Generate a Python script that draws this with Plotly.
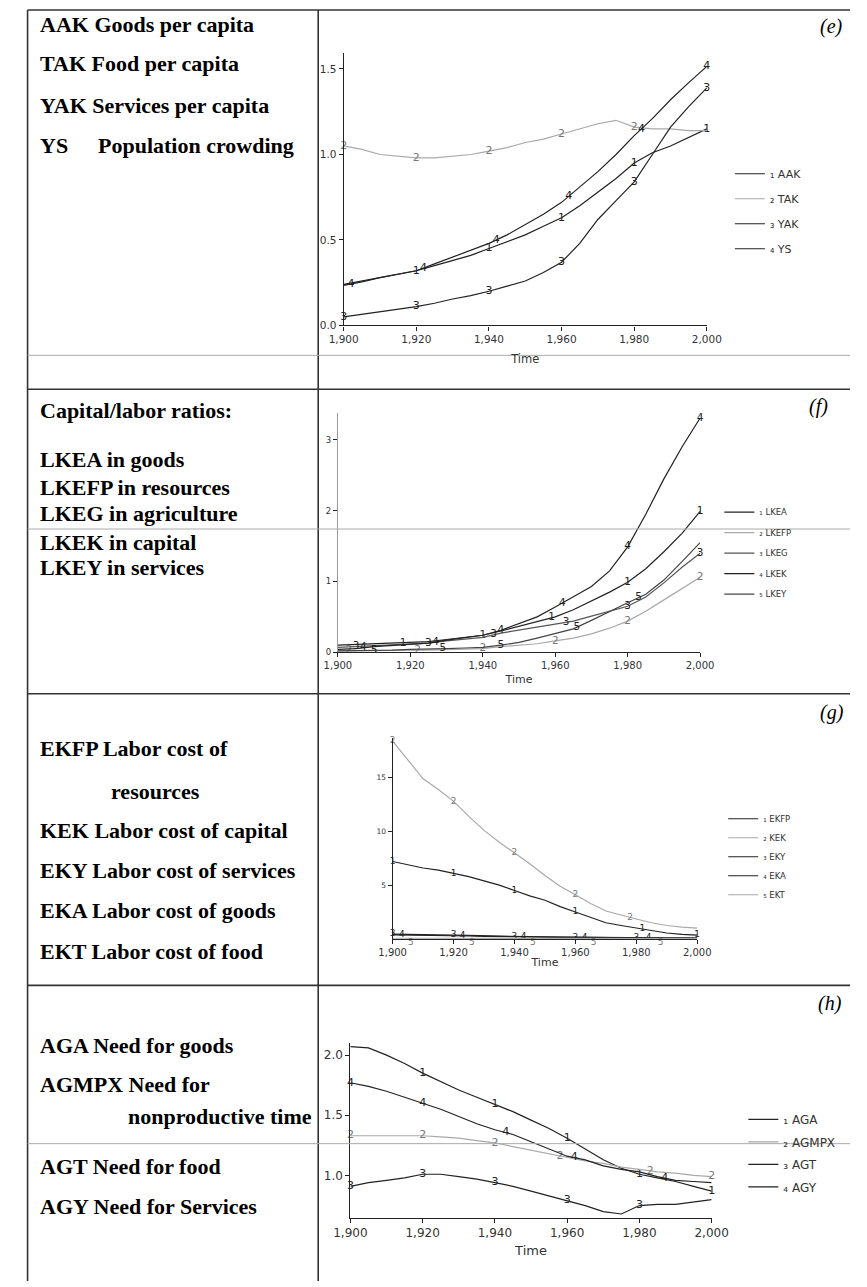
import numpy as np
import plotly.graph_objects as go

W, H = 867, 1287

YEARS = list(range(1900, 2001, 5))
X_TICKS = [1900, 1920, 1940, 1960, 1980, 2000]
SUB_DIGITS = ["\u2081", "\u2082", "\u2083", "\u2084", "\u2085"]

# ---------------- (e) ----------------
E_NAMES = ["AAK", "TAK", "YAK", "YS"]
AAK = [0.24, 0.26, 0.28, 0.30, 0.32, 0.35, 0.38, 0.41, 0.45, 0.49, 0.53,
       0.58, 0.63, 0.70, 0.78, 0.86, 0.95, 1.01, 1.05, 1.10, 1.15]
TAK = [1.05, 1.03, 1.00, 0.99, 0.98, 0.98, 0.99, 1.00, 1.02, 1.04, 1.07,
       1.09, 1.12, 1.15, 1.18, 1.20, 1.16, 1.15, 1.15, 1.14, 1.14]
YAK = [0.05, 0.065, 0.08, 0.095, 0.11, 0.13, 0.155, 0.175, 0.20, 0.23, 0.26,
       0.31, 0.37, 0.48, 0.62, 0.73, 0.84, 1.00, 1.16, 1.28, 1.39]
YS = [0.235, 0.255, 0.28, 0.30, 0.32, 0.36, 0.40, 0.44, 0.48, 0.53, 0.59,
      0.65, 0.72, 0.81, 0.90, 1.00, 1.11, 1.21, 1.32, 1.42, 1.515]
E_LABEL_YEARS = [[1920, 1940, 1960, 1980, 2000],
                 [1900, 1920, 1940, 1960, 1980],
                 [1900, 1920, 1940, 1960, 1980, 2000],
                 [1902, 1922, 1942, 1962, 1982, 2000]]
E_YTICKS = [0.0, 0.5, 1.0, 1.5]

# ---------------- (f) ----------------
F_NAMES = ["LKEA", "LKEFP", "LKEG", "LKEK", "LKEY"]
LKEA = [0.10, 0.11, 0.12, 0.125, 0.13, 0.15, 0.18, 0.21, 0.24, 0.30, 0.37,
        0.43, 0.50, 0.60, 0.72, 0.85, 0.99, 1.18, 1.42, 1.68, 1.99]
LKEFP = [0.02, 0.02, 0.02, 0.025, 0.03, 0.03, 0.035, 0.04, 0.05, 0.08, 0.10,
         0.12, 0.16, 0.20, 0.26, 0.34, 0.44, 0.58, 0.74, 0.90, 1.06]
LKEG = [0.07, 0.08, 0.09, 0.11, 0.12, 0.13, 0.16, 0.18, 0.21, 0.27, 0.31,
        0.35, 0.39, 0.44, 0.51, 0.58, 0.65, 0.78, 0.98, 1.20, 1.40]
LKEK = [0.04, 0.05, 0.08, 0.10, 0.12, 0.13, 0.17, 0.20, 0.24, 0.31, 0.40,
        0.50, 0.64, 0.78, 0.93, 1.15, 1.49, 1.95, 2.45, 2.90, 3.31]
LKEY = [0.02, 0.02, 0.02, 0.03, 0.04, 0.04, 0.05, 0.06, 0.07, 0.10, 0.14,
        0.20, 0.26, 0.33, 0.45, 0.58, 0.70, 0.82, 1.02, 1.28, 1.55]
F_LABEL_YEARS = [[1918, 1940, 1959, 1980, 2000],
                 [1903, 1922, 1940, 1960, 1980, 2000],
                 [1905, 1925, 1943, 1963, 1980, 2000],
                 [1907, 1927, 1945, 1962, 1980, 2000],
                 [1910, 1929, 1945, 1966, 1983]]
F_YTICKS = [0, 1, 2, 3]

# ---------------- (g) ----------------
G_NAMES = ["EKFP", "KEK", "EKY", "EKA", "EKT"]
EKFP = [7.2, 6.9, 6.6, 6.4, 6.1, 5.8, 5.4, 5.0, 4.5, 4.0, 3.6,
        3.0, 2.5, 2.0, 1.5, 1.25, 1.0, 0.75, 0.55, 0.42, 0.35]
KEK = [18.4, 16.6, 14.9, 13.9, 12.8, 11.4, 10.1, 9.0, 8.0, 7.0, 5.9,
       4.9, 4.1, 3.3, 2.6, 2.2, 1.85, 1.5, 1.25, 1.1, 1.0]
EKY = [0.45, 0.44, 0.42, 0.39, 0.35, 0.32, 0.28, 0.25, 0.22, 0.20, 0.18,
       0.165, 0.15, 0.135, 0.12, 0.11, 0.10, 0.095, 0.09, 0.085, 0.08]
EKA = [0.38, 0.37, 0.35, 0.33, 0.30, 0.27, 0.24, 0.22, 0.19, 0.17, 0.15,
       0.14, 0.13, 0.12, 0.11, 0.10, 0.09, 0.085, 0.08, 0.075, 0.07]
EKT = [0.06, 0.06, 0.055, 0.05, 0.05, 0.045, 0.04, 0.04, 0.035, 0.035, 0.03,
       0.03, 0.03, 0.025, 0.025, 0.025, 0.02, 0.02, 0.02, 0.02, 0.02]
G_LABEL_YEARS = [[1900, 1920, 1940, 1960, 1982, 2000],
                 [1900, 1920, 1940, 1960, 1978],
                 [1900, 1920, 1940, 1960, 1980],
                 [1903, 1923, 1943, 1963, 1984],
                 [1906, 1926, 1946, 1966, 1988]]
G_YTICKS = [5, 10, 15]

# ---------------- (h) ----------------
H_NAMES = ["AGA", "AGMPX", "AGT", "AGY"]
AGA = [2.07, 2.06, 2.00, 1.93, 1.85, 1.78, 1.71, 1.65, 1.59, 1.53, 1.46,
       1.39, 1.31, 1.22, 1.13, 1.06, 1.01, 0.98, 0.95, 0.91, 0.87]
AGMPX = [1.33, 1.33, 1.33, 1.33, 1.33, 1.32, 1.31, 1.29, 1.27, 1.24, 1.21,
         1.18, 1.15, 1.12, 1.10, 1.07, 1.05, 1.03, 1.02, 1.00, 0.99]
AGT = [0.91, 0.94, 0.96, 0.98, 1.01, 1.01, 0.99, 0.97, 0.94, 0.91, 0.87,
       0.83, 0.79, 0.75, 0.70, 0.68, 0.75, 0.76, 0.76, 0.78, 0.80]
AGY = [1.77, 1.74, 1.70, 1.65, 1.60, 1.55, 1.49, 1.43, 1.38, 1.34, 1.28,
       1.22, 1.16, 1.13, 1.08, 1.05, 1.03, 0.99, 0.96, 0.95, 0.94]
H_LABEL_YEARS = [[1920, 1940, 1960, 1980, 2000],
                 [1900, 1920, 1940, 1958, 1983, 2000],
                 [1900, 1920, 1940, 1960, 1980],
                 [1900, 1920, 1943, 1962, 1987]]
H_YTICKS = [1.0, 1.5, 2.0]

# ---------------- left column text ----------------
TEXT_LINES = [
    ("AAK Goods per capita", 22, 25), ("TAK Food per capita", 22, 64),
    ("YAK Services per capita", 22, 106), ("YS", 22, 146), ("Population crowding", 82, 146),
    ("Capital/labor ratios:", 22, 412), ("LKEA in goods", 22, 462),
    ("LKEFP in resources", 22, 490), ("LKEG in agriculture", 22, 516),
    ("LKEK in capital", 22, 545), ("LKEY in services", 22, 570),
    ("EKFP Labor cost of", 22, 752), ("resources", 96, 795),
    ("KEK Labor cost of capital", 22, 834), ("EKY Labor cost of services", 22, 875),
    ("EKA Labor cost of goods", 22, 915), ("EKT Labor cost of food", 22, 956),
    ("AGA Need for goods", 22, 1050), ("AGMPX Need for", 22, 1090),
    ("nonproductive time", 113, 1122), ("AGT Need for food", 22, 1172),
    ("AGY Need for Services", 22, 1212),
]
PANEL_TAGS = [("(e)", 848, 27), ("(f)", 834, 408), ("(g)", 848, 716), ("(h)", 846, 1008)]

DARK = "#222222"
GRAY = "#a9a9a9"
MID = "#555555"


def px(x):
    return x / W


def py(y):
    return 1 - y / H


panels = [
    dict(key="", names=E_NAMES, data=[AAK, TAK, YAK, YS], labels=E_LABEL_YEARS,
         colors=[DARK, GRAY, DARK, DARK], xdom=(340, 718), ydom=(327, 53), yr=(0, 1.595),
         ytk=E_YTICKS, yfmt=".1f", tf=10.5, ytf=10.5, lf=11, legx=742, legy=160, gap=6,
         lab_pos=["middle center"] * 4, ylc=DARK, stand=10, labf=11),
    dict(key="2", names=F_NAMES, data=[LKEA, LKEFP, LKEG, LKEK, LKEY], labels=F_LABEL_YEARS,
         colors=[DARK, GRAY, MID, DARK, "#444444"], xdom=(334, 711), ydom=(655.3, 415), yr=(0, 3.38),
         ytk=F_YTICKS, yfmt="d", tf=10, ytf=8.5, lf=8.5, legx=731, legy=500, gap=1.5,
         lab_pos=["middle center"] * 5, ylc="#999999", stand=4, labf=10.5),
    dict(key="3", names=G_NAMES, data=[EKFP, KEK, EKY, EKA, EKT], labels=G_LABEL_YEARS,
         colors=[DARK, GRAY, DARK, DARK, GRAY], xdom=(391, 708), ydom=(943.3, 741.7), yr=(0, 18.67),
         ytk=G_YTICKS, yfmt="d", tf=10, ytf=7.5, lf=8.5, legx=735, legy=808, gap=0,
         lab_pos=["middle center"] * 4 + ["bottom center"], ylc=DARK, stand=1, labf=9),
    dict(key="4", names=H_NAMES, data=[AGA, AGMPX, AGT, AGY], labels=H_LABEL_YEARS,
         colors=[DARK, GRAY, DARK, DARK], xdom=(347, 723), ydom=(1223.3, 1048.3), yr=(0.65, 2.097),
         ytk=H_YTICKS, yfmt=".1f", tf=12, ytf=12, lf=12, legx=756, legy=1110, gap=3.5,
         lab_pos=["middle center"] * 4, ylc=DARK, stand=6, labf=11),
]

fig = go.Figure()
layout = dict(width=W, height=H, margin=dict(l=0, r=0, t=0, b=0),
              paper_bgcolor="white", plot_bgcolor="rgba(0,0,0,0)",
              font=dict(family="DejaVu Sans", color=DARK), showlegend=True)

for n, p in enumerate(panels):
    k = p["key"]
    xa, ya = "x" + k, "y" + k
    leg = "legend" + k
    for i, (name, vals) in enumerate(zip(p["names"], p["data"])):
        col = p["colors"][i]
        fig.add_trace(go.Scatter(
            x=YEARS, y=vals, mode="lines", xaxis=xa, yaxis=ya,
            line=dict(color=col, width=1.2), name=f"{SUB_DIGITS[i]} {name}",
            legend=leg, legendgroup=f"{n}-{i}", hoverinfo="skip"))
        ly = np.interp(p["labels"][i], YEARS, vals)
        fig.add_trace(go.Scatter(
            x=p["labels"][i], y=ly, mode="text", xaxis=xa, yaxis=ya,
            text=[str(i + 1)] * len(ly), textposition=p["lab_pos"][i],
            textfont=dict(family="DejaVu Sans", size=p["labf"],
                          color=DARK if col != GRAY else "#777777"),
            showlegend=False, cliponaxis=False, hoverinfo="skip"))
    x0, x1 = p["xdom"]
    yb, yt = p["ydom"]
    layout["xaxis" + k] = dict(
        domain=[px(x0), px(x1)], range=[1900, 2000], anchor=ya,
        tickvals=X_TICKS, tickformat=",d", showline=True, linecolor=DARK, linewidth=1.2,
        ticks="outside", ticklen=4, tickcolor=DARK, showgrid=False, zeroline=False,
        tickfont=dict(size=p["tf"], color="#333333"),
        title=dict(text="Time", font=dict(size=p["tf"] + 1, color="#333333"), standoff=p["stand"]))
    layout["yaxis" + k] = dict(
        domain=[py(yb), py(yt)], range=list(p["yr"]), anchor=xa,
        tickvals=p["ytk"], tickformat=p["yfmt"], showline=True, linecolor=p["ylc"],
        linewidth=1.2, ticks="outside", ticklen=4, tickcolor=DARK, showgrid=False,
        zeroline=False, tickfont=dict(size=p["ytf"], color="#333333"))
    layout[leg] = dict(x=px(p["legx"]), y=py(p["legy"]), xanchor="left", yanchor="top",
                       bgcolor="rgba(0,0,0,0)", borderwidth=0, tracegroupgap=p["gap"],
                       itemwidth=30, font=dict(size=p["lf"], color="#333333"))

annotations = []
for txt, x, y in TEXT_LINES:
    annotations.append(dict(text=txt, x=px(x), y=py(y), xref="paper", yref="paper",
                            xanchor="left", yanchor="middle", showarrow=False,
                            font=dict(family="Liberation Serif, Times New Roman, serif",
                                      size=22, color="black", weight="bold")))
for txt, x, y in PANEL_TAGS:
    annotations.append(dict(text=txt, x=px(x), y=py(y), xref="paper", yref="paper",
                            xanchor="center", yanchor="middle", showarrow=False,
                            font=dict(family="Liberation Serif, Times New Roman, serif",
                                      size=20, color="black", style="italic")))
layout["annotations"] = annotations

# table rules: (x0, y0, x1, y1, color, width)
RULES = [
    (11, 10, 867, 10, "#333333", 1.6), (11, 10, 11, H, "#333333", 1.6),
    (313.5, 10, 313.5, H, "#333333", 1.6),
    (11, 357, 867, 357, "#aaaaaa", 1.0), (11, 391, 867, 391, "#333333", 1.6),
    (11, 531.5, 867, 531.5, "#aaaaaa", 1.0), (11, 697, 867, 697, "#333333", 1.6),
    (11, 990, 867, 990, "#333333", 1.6), (11, 1149, 867, 1149, "#aaaaaa", 1.0),
]
layout["shapes"] = [dict(type="line", xref="paper", yref="paper", x0=px(a), y0=py(b),
                         x1=px(c), y1=py(d), line=dict(color=col, width=w))
                    for a, b, c, d, col, w in RULES]

fig.update_layout(**layout)
fig.write_html("out.html", config={"displayModeBar": False},
               post_script="document.body.style.margin='0px';")
